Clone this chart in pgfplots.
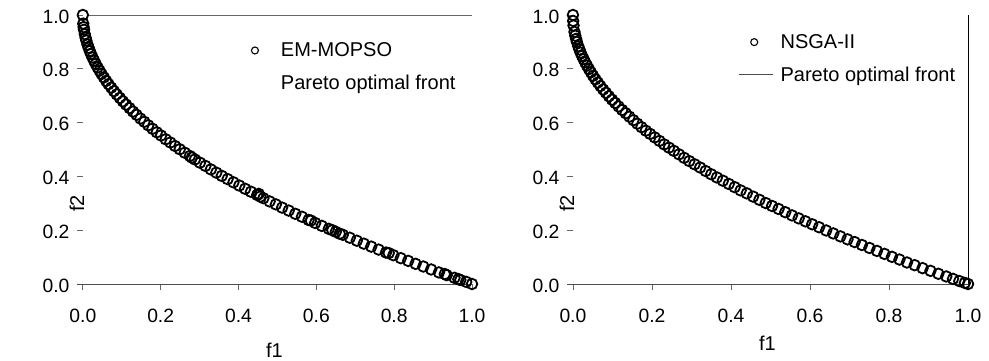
\documentclass[border=0pt]{standalone}
\usepackage{pgfplots}
\pgfplotsset{compat=1.18}
\usepackage{fontspec}
\setmainfont{Liberation Sans}

\pgfplotstableread{
x y
0.000 1.000
0.001 0.968
0.002 0.955
0.003 0.945
0.005 0.929
0.007 0.916
0.009 0.905
0.012 0.890
0.015 0.878
0.018 0.866
0.021 0.855
0.025 0.842
0.029 0.830
0.033 0.818
0.038 0.805
0.043 0.793
0.048 0.781
0.054 0.768
0.060 0.755
0.066 0.743
0.073 0.730
0.080 0.717
0.087 0.705
0.095 0.692
0.103 0.679
0.111 0.667
0.120 0.654
0.129 0.641
0.138 0.629
0.148 0.615
0.158 0.603
0.168 0.590
0.179 0.577
0.190 0.564
0.201 0.552
0.213 0.538
0.225 0.526
0.237 0.513
0.249 0.501
0.262 0.488
0.275 0.476
0.280 0.470
0.288 0.463
0.301 0.451
0.315 0.439
0.329 0.426
0.343 0.414
0.357 0.402
0.372 0.390
0.387 0.378
0.402 0.366
0.417 0.354
0.432 0.343
0.448 0.331
0.452 0.335
0.456 0.325
0.464 0.319
0.480 0.307
0.496 0.296
0.512 0.284
0.529 0.273
0.546 0.261
0.563 0.250
0.580 0.238
0.586 0.236
0.597 0.227
0.614 0.216
0.632 0.205
0.641 0.200
0.650 0.194
0.660 0.187
0.668 0.183
0.686 0.172
0.704 0.161
0.722 0.150
0.741 0.139
0.760 0.128
0.779 0.117
0.786 0.115
0.798 0.107
0.817 0.096
0.836 0.086
0.855 0.075
0.875 0.065
0.895 0.054
0.915 0.043
0.930 0.037
0.935 0.033
0.955 0.023
0.965 0.018
0.970 0.015
0.985 0.008
1.000 0.000
}\emmopso

\pgfplotstableread{
x y
0.000 1.000
0.0005 0.978
0.0015 0.961
0.004 0.937
0.006 0.923
0.008 0.911
0.010 0.900
0.0135 0.884
0.0165 0.872
0.0195 0.860
0.023 0.848
0.027 0.836
0.031 0.824
0.0355 0.812
0.0405 0.799
0.0455 0.787
0.051 0.774
0.057 0.761
0.063 0.749
0.0695 0.736
0.0765 0.723
0.0835 0.711
0.091 0.698
0.099 0.685
0.107 0.673
0.1155 0.660
0.1245 0.647
0.1335 0.635
0.143 0.622
0.153 0.609
0.163 0.596
0.1735 0.583
0.1845 0.570
0.1955 0.558
0.207 0.545
0.219 0.532
0.231 0.519
0.243 0.507
0.2555 0.495
0.2685 0.482
0.2815 0.469
0.2945 0.457
0.308 0.445
0.322 0.433
0.336 0.420
0.350 0.408
0.3645 0.396
0.3795 0.384
0.3945 0.372
0.4095 0.360
0.4245 0.348
0.440 0.337
0.456 0.325
0.472 0.313
0.488 0.301
0.504 0.290
0.5205 0.279
0.5375 0.267
0.5545 0.255
0.5715 0.244
0.5885 0.233
0.6055 0.222
0.623 0.211
0.641 0.199
0.659 0.188
0.677 0.177
0.695 0.166
0.713 0.156
0.7315 0.145
0.7505 0.134
0.7695 0.123
0.7885 0.112
0.8075 0.101
0.8265 0.091
0.8455 0.080
0.865 0.070
0.885 0.059
0.905 0.049
0.925 0.038
0.945 0.028
0.962 0.019
0.978 0.011
0.992 0.004
1.000 0.000
}\nsga

\pgfplotsset{
  panel/.style={
    scale only axis, height=269pt,
    xmin=-0.015, xmax=1, ymin=0, ymax=1, clip=false,
    axis x line*=bottom, axis y line*=left,
    x axis line style={draw=black!70, line width=0.8pt},
    y axis line style={draw=none},
    xtick={0,0.2,...,1.0}, ytick={0,0.2,...,1.0},
    xtick style={draw=black!60, line width=0.7pt},
    ytick style={draw=black!60, line width=0.7pt},
    x tick label style={yshift=-15pt},
    y tick label style={xshift=-4pt, yshift=-1.5pt},
    xtick align=outside, ytick align=inside,
    major tick length=6pt,
    tick label style={font=\fontsize{19.3}{21}\selectfont},
    label style={font=\fontsize{20}{22}\selectfont},
    /pgf/number format/assume math mode=true,
    xticklabel={\pgfmathprintnumber[fixed,fixed zerofill,precision=1]{\tick}},
    yticklabel={\pgfmathprintnumber[fixed,fixed zerofill,precision=1]{\tick}},
    ylabel style={at={(axis description cs:0,0.5)}, xshift=-54pt, anchor=center},
    legend cell align=left,
    legend style={draw=none, fill=none, anchor=north west, inner sep=0pt,
      font=\fontsize{20}{22}\selectfont, row sep=13pt,
      nodes={inner sep=2pt},
      /tikz/every odd column/.append style={column sep=5pt}},
  },
  pts/.style={only marks, mark=o, mark size=5.3pt, line width=1.8pt, mark options={fill=white, draw=black},
    legend image code/.code={\path[draw=none] (0pt,0pt) -- (34pt,0pt);\draw[mark size=3.5pt, line width=1.1pt] plot coordinates {(15pt,0pt)};}},
  frontleg/.style={legend image code/.code={\draw[draw=black!70, line width=0.8pt] (0pt,0pt) -- (34pt,0pt);}},
  noleg/.style={legend image code/.code={\path[draw=none] (0pt,0pt) -- (34pt,0pt);}},
}

\begin{document}
\begin{tikzpicture}
\begin{axis}[panel, width=395pt, at={(0pt,0pt)}, anchor=south west,
  xlabel={f1}, ylabel={f2},
  xlabel style={at={(axis description cs:0.5,0)}, yshift=-66pt, anchor=center},
  legend style={at={(axis description cs:0.412,0.905)}}]
\addplot[draw=black!60, line width=0.8pt, forget plot] coordinates {(0.013,1) (1,1)};
\addplot[pts] table[x=x,y=y] {\emmopso};
\addlegendentry{EM-MOPSO}
\addlegendimage{noleg}
\addlegendentry{Pareto optimal front}
\end{axis}
\begin{axis}[panel, width=401pt, at={(490pt,0pt)}, anchor=south west,
  xlabel={f1}, ylabel={f2},
  xlabel style={at={(axis description cs:0.5,0)}, yshift=-59pt, anchor=center},
  legend style={at={(axis description cs:0.428,0.936)}}]
\addplot[draw=black, line width=0.8pt, forget plot] coordinates {(1,0) (1,1)};
\addplot[pts] table[x=x,y=y] {\nsga};
\addlegendentry{NSGA-II}
\addlegendimage{frontleg}
\addlegendentry{Pareto optimal front}
\end{axis}
\pgfresetboundingbox
\useasboundingbox (-77pt,-77pt) rectangle (912pt,284pt);
\end{tikzpicture}
\end{document}
